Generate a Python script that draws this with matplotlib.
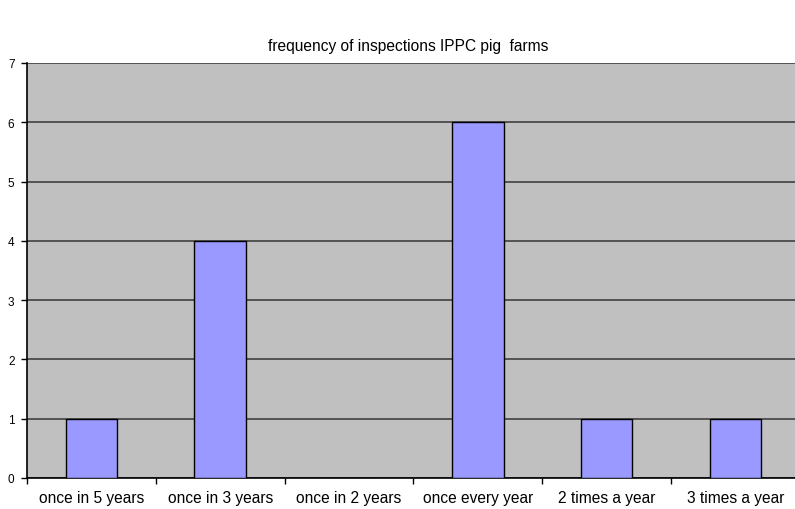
import matplotlib
matplotlib.use("Agg")
import matplotlib.pyplot as plt
import numpy as np

plt.rcParams['font.family'] = ['Liberation Sans', 'DejaVu Sans']

categories = ["once in 5 years", "once in 3 years", "once in 2 years",
              "once every year", "2 times a year", "3 times a year"]
counts = [1, 4, 0, 6, 1, 1]
yticks = [0, 1, 2, 3, 4, 5, 6, 7]

fig = plt.figure(figsize=(7.95, 5.1), dpi=100)
ax = fig.add_axes([27 / 795, 1 - 479 / 510, 1 - 27 / 795 + 0.006, (479 - 64) / 510])
ax.set_facecolor("#c0c0c0")

x = np.arange(len(categories))
ax.bar(x, counts, width=0.4, color="#9999ff", edgecolor="#000000", linewidth=1.0, zorder=3)

ax.set_ylim(0, 7)
ax.set_xlim(-0.5, len(categories) - 0.5)
ax.set_yticks(yticks)
ax.yaxis.grid(True, color="#4a4a4a", linewidth=1.3, zorder=1)
ax.set_axisbelow(True)

ax.set_xticks(x)
ax.set_xticklabels(categories, fontsize=11.2)
ax.tick_params(axis="x", which="major", length=0, pad=9)
ax.set_xticks(np.arange(-0.5, len(categories), 1.0), minor=True)
ax.tick_params(axis="x", which="minor", length=4, width=1, direction="out")
ax.tick_params(axis="y", labelsize=8.5, length=4, width=1, direction="out", pad=5)

for s in ["top", "right"]:
    ax.spines[s].set_visible(False)
ax.spines["left"].set_linewidth(1.2)
ax.spines["bottom"].set_linewidth(1.2)

fig.text(408 / 795, 1 - 47 / 510, "frequency of inspections IPPC pig  farms",
         ha="center", va="center", fontsize=11.2)

fig.savefig("out.png", dpi=100)
